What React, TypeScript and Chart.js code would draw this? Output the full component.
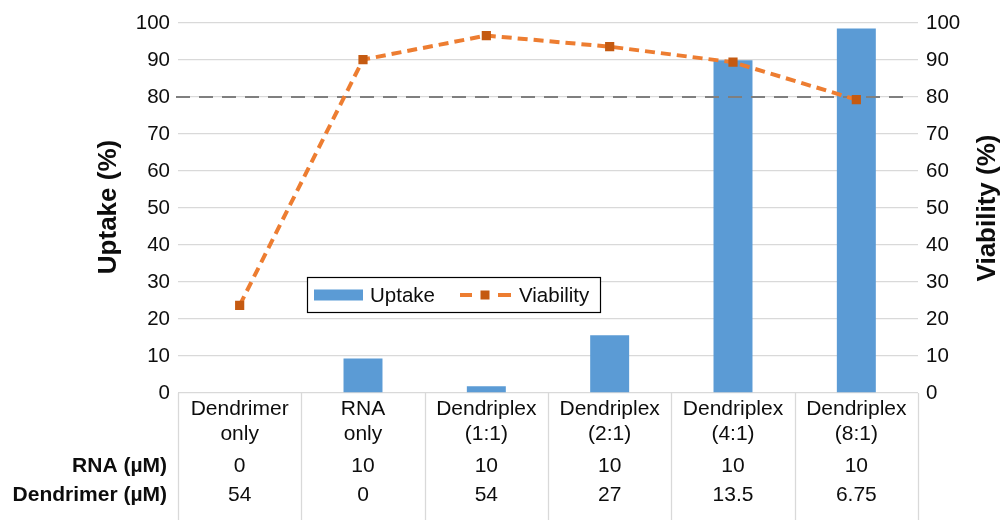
import React, { useEffect, useRef } from "react";
import { Chart, registerables } from "chart.js";

Chart.register(...registerables);

const FONT = '"Liberation Sans", Arial, Helvetica, sans-serif';

// ---- data ----
const categories: string[][] = [
  ["Dendrimer", "only"],
  ["RNA", "only"],
  ["Dendriplex", "(1:1)"],
  ["Dendriplex", "(2:1)"],
  ["Dendriplex", "(4:1)"],
  ["Dendriplex", "(8:1)"],
];
const uptake = [0, 9.3, 1.8, 15.6, 89.9, 98.5];
const viability = [23.7, 90.1, 96.6, 93.6, 89.4, 79.3];
const rowLabels = ["RNA (µM)", "Dendrimer (µM)"];
const rnaRow = ["0", "10", "10", "10", "10", "10"];
const dendrimerRow = ["54", "0", "54", "27", "13.5", "6.75"];
const axisMin = 0;
const axisMax = 100;
const axisStep = 10;
const threshold = 80;
const leftTitle = "Uptake (%)";
const rightTitle = "Viability (%)";
const legendLabels = ["Uptake", "Viability"];

const BAR_COLOR = "#5B9BD5";
const LINE_COLOR = "#ED7D31";
const MARKER_COLOR = "#C55A11";
const GRID = "#d9d9d9";
const TEXT = "#0d0d0d";

export default function App() {
  const ref = useRef<HTMLCanvasElement>(null);

  useEffect(() => {
    if (!ref.current) return;

    const thresholdPlugin = {
      id: "thresholdLine",
      afterDatasetDraw(chart: any, args: any) {
        if (args.index !== 0) return;
        const { ctx, chartArea } = chart;
        const y = chart.scales.y.getPixelForValue(threshold);
        ctx.save();
        ctx.strokeStyle = "#7f7f7f";
        ctx.lineWidth = 2.2;
        ctx.setLineDash([14, 9]);
        ctx.beginPath();
        ctx.moveTo(chartArea.left - 2, y);
        ctx.lineTo(chartArea.right - 8, y);
        ctx.stroke();
        ctx.restore();
      },
    };

    const tablePlugin = {
      id: "tableAndTitles",
      afterDraw(chart: any) {
        const { ctx, chartArea } = chart;
        const xs = chart.scales.x;
        const n = categories.length;
        const w = chartArea.width / n;
        const H = chart.height;
        ctx.save();
        // vertical table lines
        ctx.strokeStyle = GRID;
        ctx.lineWidth = 1.3;
        for (let k = 0; k <= n; k++) {
          const x = Math.round(chartArea.left + k * w) + 0.5;
          ctx.beginPath();
          ctx.moveTo(x, chartArea.bottom);
          ctx.lineTo(x, H);
          ctx.stroke();
        }
        // category labels and row values
        ctx.fillStyle = TEXT;
        ctx.textAlign = "center";
        ctx.textBaseline = "middle";
        ctx.font = `21px ${FONT}`;
        for (let i = 0; i < n; i++) {
          const cx = xs.getPixelForValue(i);
          ctx.fillText(categories[i][0], cx, 409);
          ctx.fillText(categories[i][1], cx, 434);
          ctx.fillText(rnaRow[i], cx, 466);
          ctx.fillText(dendrimerRow[i], cx, 495);
        }
        // row labels
        ctx.font = `bold 21px ${FONT}`;
        ctx.textAlign = "right";
        ctx.fillText(rowLabels[0], 167, 466);
        ctx.fillText(rowLabels[1], 167, 495);

        // axis titles
        ctx.font = `bold 26px ${FONT}`;
        ctx.textAlign = "center";
        ctx.save();
        ctx.translate(109, 207);
        ctx.rotate(-Math.PI / 2);
        ctx.fillText(leftTitle, 0, 0);
        ctx.restore();
        ctx.save();
        ctx.translate(988, 208);
        ctx.rotate(-Math.PI / 2);
        ctx.fillText(rightTitle, 0, 0);
        ctx.restore();

        // legend
        const lx = 307.5, ly = 277.5, lw = 293, lh = 35;
        ctx.fillStyle = "#ffffff";
        ctx.fillRect(lx, ly, lw, lh);
        ctx.strokeStyle = "#000000";
        ctx.lineWidth = 1.2;
        ctx.strokeRect(lx, ly, lw, lh);
        const my = ly + lh / 2;
        ctx.fillStyle = BAR_COLOR;
        ctx.fillRect(314, my - 5.5, 49, 11);
        ctx.fillStyle = TEXT;
        ctx.font = `20.5px ${FONT}`;
        ctx.textAlign = "left";
        ctx.fillText(legendLabels[0], 370, my + 1);
        ctx.strokeStyle = LINE_COLOR;
        ctx.lineWidth = 4;
        ctx.beginPath();
        ctx.moveTo(460, my);
        ctx.lineTo(472, my);
        ctx.moveTo(498, my);
        ctx.lineTo(511, my);
        ctx.stroke();
        ctx.fillStyle = MARKER_COLOR;
        ctx.fillRect(480.5, my - 4.5, 9, 9);
        ctx.fillStyle = TEXT;
        ctx.fillText(legendLabels[1], 519, my + 1);
        ctx.restore();
      },
    };

    const chart = new Chart(ref.current, {
      type: "bar",
      data: {
        labels: categories.map((c) => c.join(" ")),
        datasets: [
          {
            type: "bar",
            label: legendLabels[0],
            data: uptake,
            backgroundColor: BAR_COLOR,
            categoryPercentage: 1,
            barPercentage: 0.316,
            yAxisID: "y",
            order: 2,
          },
          {
            type: "line",
            label: legendLabels[1],
            data: viability,
            borderColor: LINE_COLOR,
            borderWidth: 4,
            borderDash: [10, 6],
            pointStyle: "rect",
            pointRadius: 6.5,
            pointBackgroundColor: MARKER_COLOR,
            pointBorderColor: MARKER_COLOR,
            pointBorderWidth: 0,
            tension: 0,
            yAxisID: "y2",
            order: 1,
          } as any,
        ],
      },
      options: {
        responsive: false,
        animation: false,
        layout: { padding: { top: 23, bottom: 127, left: 0, right: 0 } },
        plugins: {
          legend: { display: false },
          tooltip: { enabled: false },
        },
        scales: {
          x: {
            display: false,
            offset: true,
          },
          y: {
            position: "left",
            min: axisMin,
            max: axisMax,
            ticks: {
              stepSize: axisStep,
              color: TEXT,
              font: { family: FONT, size: 20.5 },
              padding: 8,
            },
            grid: { color: GRID, lineWidth: 1.3, drawTicks: false },
            border: { display: false },
            afterFit: (s: any) => {
              s.width = 178;
            },
          },
          y2: {
            position: "right",
            min: axisMin,
            max: axisMax,
            ticks: {
              stepSize: axisStep,
              color: TEXT,
              font: { family: FONT, size: 20.5 },
              padding: 8,
            },
            grid: { display: false, drawTicks: false },
            border: { display: false },
            afterFit: (s: any) => {
              s.width = 84;
            },
          },
        },
      },
      plugins: [thresholdPlugin, tablePlugin],
    });

    return () => chart.destroy();
  }, []);

  return (
    <div style={{ position: "absolute", left: 0, top: 0, width: 1002, height: 520, background: "#fff" }}>
      <canvas ref={ref} width={1002} height={520} style={{ width: 1002, height: 520, display: "block" }} />
    </div>
  );
}
